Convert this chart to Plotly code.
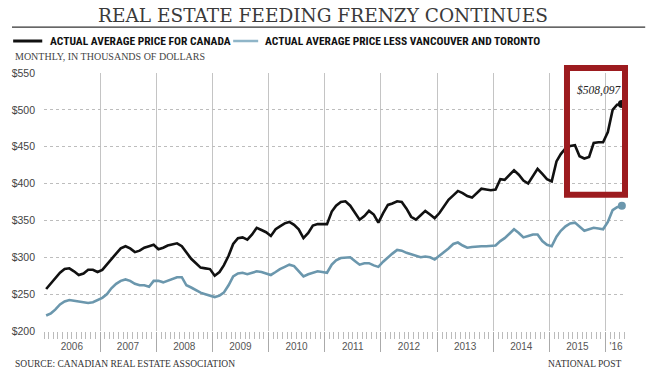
import pandas as pd
import plotly.graph_objects as go

# ---- data (monthly, thousands of dollars) ----
months = pd.date_range("2006-01-01", periods=124, freq="MS") + pd.Timedelta(days=14)

canada = [257, 265, 272, 279, 284, 285, 281, 276, 278, 283, 283, 280,
          283, 291, 298, 305, 312, 315, 312, 307, 309, 313, 315, 317,
          311, 313, 316, 318, 319, 315, 307, 298, 292, 286, 285, 284,
          275, 280, 289, 302, 318, 326, 327, 324, 331, 340, 337, 334,
          329, 338, 342, 346, 348, 344, 338, 326, 333, 343, 345, 345,
          345, 362, 370, 375, 376, 370, 360, 351, 356, 363, 358, 347,
          360, 371, 373, 376, 375, 366, 355, 351, 357, 363, 358, 353,
          360, 370, 378, 384, 390, 387, 383, 381, 387, 393, 392, 391,
          392, 406, 405, 412, 418, 412, 404, 400, 410, 420, 413, 406,
          403, 430, 440, 448, 451, 452, 437, 434, 436, 455, 456, 456,
          470, 500, 507, 508]

less_van_tor = [221, 224, 229, 236, 240, 242, 241, 240, 238, 238, 239, 242,
                245, 250, 258, 264, 268, 270, 268, 264, 262, 262, 260, 268,
                268, 266, 268, 271, 273, 273, 262, 259, 255, 252, 250, 248,
                246, 248, 252, 262, 274, 278, 279, 277, 279, 281, 280, 278,
                276, 280, 284, 287, 290, 288, 281, 274, 277, 279, 281, 280,
                279, 290, 296, 299, 300, 300, 295, 290, 292, 292, 289, 287,
                294, 300, 305, 310, 309, 306, 304, 302, 300, 301, 300, 297,
                302, 307, 312, 318, 320, 316, 313, 314, 315, 315, 315, 315,
                316, 322, 326, 332, 338, 333, 327, 329, 331, 331, 322, 317,
                315, 328, 336, 342, 346, 347, 341, 336, 338, 340, 339, 338,
                348, 364, 368, 370]

year_starts = [f"{y}-01-01" for y in range(2007, 2017)]
label_pos = [f"{y}-07-01" for y in range(2006, 2016)] + ["2016-03-08"]
year_labels = [str(y) for y in range(2006, 2016)] + ["'16"]
y_ticks = [200, 250, 300, 350, 400, 450, 500, 550]
y_labels = [f"${v}" for v in y_ticks]

callout_text = "$508,097"

BLACK = "#111111"
BLUE = "#6b97ad"
RED = "#9c1b1f"

fig = go.Figure()
fig.add_trace(go.Scatter(x=months, y=canada, mode="lines",
                         line=dict(color=BLACK, width=2.6), hoverinfo="skip",
                         showlegend=False))
fig.add_trace(go.Scatter(x=months, y=less_van_tor, mode="lines",
                         line=dict(color=BLUE, width=2.6), hoverinfo="skip",
                         showlegend=False))
fig.add_trace(go.Scatter(x=[months[-1]], y=[canada[-1]], mode="markers",
                         marker=dict(color=BLACK, size=8), showlegend=False))
fig.add_trace(go.Scatter(x=[months[-1]], y=[less_van_tor[-1]], mode="markers",
                         marker=dict(color=BLUE, size=8), showlegend=False))
# dummy trace on the label axis
fig.add_trace(go.Scatter(x=[months[0]], y=[200], xaxis="x2", mode="markers",
                         marker=dict(opacity=0), showlegend=False, hoverinfo="skip"))

fig.update_layout(
    width=657, height=375,
    margin=dict(l=44, r=31, t=73, b=44, autoexpand=False),
    paper_bgcolor="white", plot_bgcolor="white",
    xaxis=dict(range=["2006-01-01", "2016-05-12"], type="date", automargin=False,
               tickvals=year_starts, ticktext=[""] * len(year_starts),
               showgrid=True, gridcolor="#c4c4c4", gridwidth=1,
               ticks="outside", ticklen=20, tickcolor="#aaaaaa", tickwidth=1,
               minor=dict(dtick="M1", ticks="outside", ticklen=7,
                          tickcolor="#bbbbbb", tickwidth=1, showgrid=False),
               showline=False, zeroline=False, fixedrange=True),
    xaxis2=dict(range=["2006-01-01", "2016-05-12"], type="date", automargin=False,
                overlaying="x", anchor="y", side="bottom", matches="x",
                tickvals=label_pos, ticktext=year_labels,
                ticks="outside", ticklen=6, tickcolor="rgba(0,0,0,0)",
                showgrid=False, showline=False, zeroline=False,
                tickfont=dict(family="Liberation Sans", size=10, color="#555555")),
    yaxis=dict(range=[200, 550], tickvals=y_ticks, ticktext=y_labels, automargin=False,
               showgrid=True, gridcolor="#bdbdbd", griddash="dot", gridwidth=1,
               ticks="", ticklabelstandoff=8, zeroline=False, showline=False,
               tickfont=dict(family="Liberation Sans", size=10.5, color="#444444"),
               fixedrange=True),
    showlegend=False,
)

# Title and rule
fig.add_annotation(text="REAL ESTATE FEEDING FRENZY CONTINUES", xref="paper", yref="paper",
                   x=0.48, y=1.0, yshift=58, xanchor="center", yanchor="middle",
                   showarrow=False,
                   font=dict(family="DejaVu Serif", size=18.5, color="#3a3a3a"))
fig.add_shape(type="line", xref="paper", yref="paper", x0=-0.055, x1=1.033,
              y0=1.178, y1=1.178, line=dict(color="#333333", width=1.2))

# Legend
fig.add_shape(type="line", xref="paper", yref="paper", x0=-0.053, x1=-0.003,
              y0=1.124, y1=1.124, line=dict(color=BLACK, width=3))
fig.add_annotation(text="<b>ACTUAL AVERAGE PRICE FOR CANADA</b>", xref="paper", yref="paper",
                   x=0.007, y=1.124, xanchor="left", yanchor="middle", showarrow=False,
                   font=dict(family="Liberation Sans Narrow, Roboto Condensed, Roboto", size=11.5, color="#111111"))
fig.add_shape(type="line", xref="paper", yref="paper", x0=0.325, x1=0.368,
              y0=1.124, y1=1.124, line=dict(color="#8fb5c8", width=2.5))
fig.add_annotation(text="<b>ACTUAL AVERAGE PRICE LESS VANCOUVER AND TORONTO</b>", xref="paper", yref="paper",
                   x=0.376, y=1.124, xanchor="left", yanchor="middle", showarrow=False,
                   font=dict(family="Liberation Sans Narrow, Roboto Condensed, Roboto", size=11.5, color="#111111"))
fig.add_annotation(text="MONTHLY, IN THOUSANDS OF DOLLARS", xref="paper", yref="paper",
                   x=-0.054, y=1.065, xanchor="left", yanchor="middle", showarrow=False,
                   font=dict(family="Liberation Serif", size=10, color="#444444"))

# Callout box and label
fig.add_shape(type="rect", xref="paper", yref="paper", x0=0.8986, x1=0.9983,
              y0=0.528, y1=1.019, line=dict(color=RED, width=6))
fig.add_annotation(text="<i>" + callout_text + "</i>", x=months[-1], y=canada[-1],
                   xanchor="right", yanchor="bottom", xshift=1, yshift=5, showarrow=False,
                   font=dict(family="Liberation Serif", size=11.5, color="#222222"))

# Footer
fig.add_annotation(text="SOURCE: CANADIAN REAL ESTATE ASSOCIATION", xref="paper", yref="paper",
                   x=-0.054, y=0, yshift=-33, xanchor="left", yanchor="middle", showarrow=False,
                   font=dict(family="Liberation Serif", size=9.5, color="#333333"))
fig.add_annotation(text="NATIONAL POST", xref="paper", yref="paper",
                   x=0.995, y=0, yshift=-33, xanchor="right", yanchor="middle", showarrow=False,
                   font=dict(family="Liberation Serif", size=9.5, color="#333333"))

fig.write_html("out.html", config={"displayModeBar": False},
               post_script="document.body.style.margin='0px';")
